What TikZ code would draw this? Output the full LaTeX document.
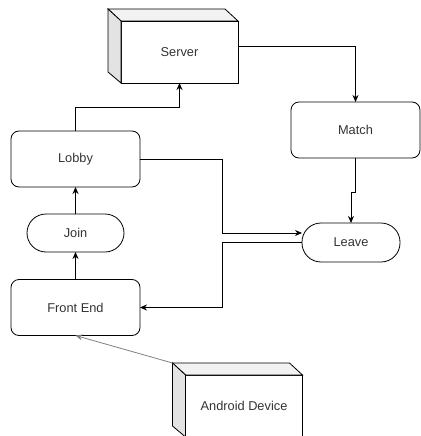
\documentclass[tikz,border=0pt]{standalone}
\usepackage{fontspec}
\setmainfont{Liberation Sans}
\usetikzlibrary{arrows.meta, positioning, calc}
\definecolor{textgray}{HTML}{333333}
\definecolor{topgray}{HTML}{F2F2F2}
\definecolor{sidegray}{HTML}{E3E3E3}

\begin{document}
\begin{tikzpicture}[
  x=1pt, y=-1pt,
  every node/.style={font=\fontsize{12.8}{15}\selectfont, text=textgray, inner sep=0pt, outer sep=0pt},
  box/.style={draw, line width=0.8pt, rounded corners=8pt, minimum width=129pt, minimum height=56pt},
  pill/.style={draw, line width=0.8pt, rounded corners=19pt, minimum width=97pt, minimum height=38pt},
  cube/.style={draw, line width=0.8pt, fill=white, minimum width=117pt, minimum height=62pt},
  topface/.style={draw, line width=0.8pt, fill=topgray},
  sideface/.style={draw, line width=0.8pt, fill=sidegray},
  arrow/.style={-{Stealth[length=7pt,width=6pt]}, line width=0.8pt},
  greyarrow/.style={arrow, draw=gray}
]
\useasboundingbox (0,0) rectangle (420,436);

% Servers and devices
\node[cube] (server) at (179.5,52) {Server};
\node[cube] (android) at (244,406) {Android Device};
\draw[topface] (server.north west) -- ++(-13,-12) -- ++(117,0) -- (server.north east) -- cycle;
\draw[sideface] (server.north west) -- ++(-13,-12) -- ++(0,63) -- (server.south west) -- cycle;
\draw[topface] (android.north west) -- ++(-13,-12) -- ++(117,0) -- (android.north east) -- cycle;
\draw[sideface] (android.north west) -- ++(-13,-12) -- ++(0,63) -- (android.south west) -- cycle;
\coordinate (androidback) at ($(android.north west)+(-13,-12)$);

% Process nodes
\node[box] (match) at (355.5,130) {Match};
\node[box] (lobby) at (75.5,159) {Lobby};
\node[pill] (join) at (75.5,233) {Join};
\node[pill, minimum width=98pt, minimum height=39pt] (leave) at (351,242.5) {Leave};
\node[box] (frontend) at (75.5,307.5) {Front End};

% Connections
\draw[arrow] ([yshift=6pt]server.east) -| (match.north);
\draw[arrow] (match.south) -- ++(0,34) -| (leave.north);
\draw[arrow] (lobby.north) -- ++(0,-24) -| (server.south);
\draw[arrow] (lobby.east) -- ++(82,0) |- ([yshift=9.5pt]leave.west);
\draw[arrow] (leave.west) -- ++(-80,0) |- (frontend.east);
\draw[arrow] (frontend) -- (join);
\draw[arrow] (join) -- (lobby);
\draw[greyarrow] (androidback) -- (frontend.south);

\end{tikzpicture}
\end{document}
